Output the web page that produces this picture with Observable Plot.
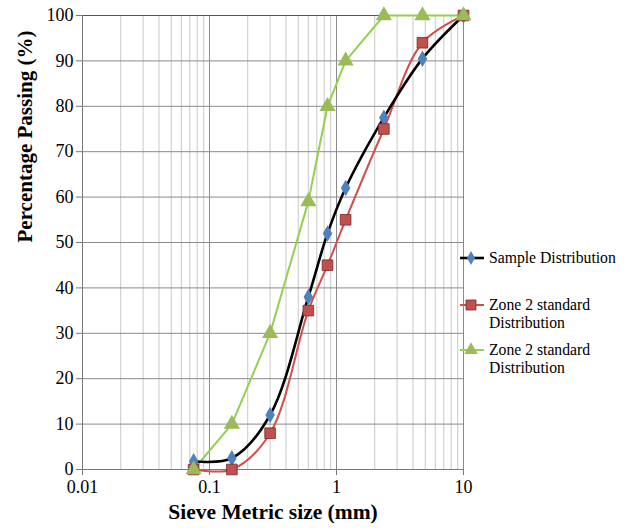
<!DOCTYPE html>
<html><head><meta charset="utf-8">
<script src="https://cdn.jsdelivr.net/npm/d3@7"></script>
<script src="https://cdn.jsdelivr.net/npm/@observablehq/plot@0.6"></script>
<style>
body{margin:0;background:#fff;}
#wrap{position:relative;width:630px;height:528px;font-family:"Liberation Serif","Times New Roman",serif;}
#wrap svg, #wrap svg text{font-family:"Liberation Serif","Times New Roman",serif !important;}
#wrap g[aria-label="x-axis tick label"] text, #wrap g[aria-label="y-axis tick label"] text{font-size:18px !important;}
#legend{position:absolute;left:0;top:0;}
#legend text{font-size:15.7px !important;}
</style></head>
<body><div id="wrap"></div>
<script>
const sieveSizes = [0.075, 0.15, 0.3, 0.6, 0.85, 1.18, 2.36, 4.75, 10];
const samplePassing = [1.8, 2.5, 12, 38, 52, 62, 77.5, 90.5, 100];
const zoneLowerPassing = [0, 0, 8, 35, 45, 55, 75, 94, 100];
const zoneUpperPassing = [0, 10, 30, 59, 80, 90, 100, 100, 100];
const seriesNames = ["Sample Distribution", "Zone 2 standard Distribution", "Zone 2 standard Distribution"];
const xTicks = [0.01, 0.1, 1, 10];
const yTicks = [0, 10, 20, 30, 40, 50, 60, 70, 80, 90, 100];

const toRows = vals => sieveSizes.map((s, i) => ({size: s, pass: vals[i]}));
const sample = toRows(samplePassing);
const zoneLower = toRows(zoneLowerPassing);
const zoneUpper = toRows(zoneUpperPassing);
const minorTicks = d3.scaleLog().domain([0.01, 10]).ticks().filter(t => !xTicks.includes(t));

const colors = {sampleLine: "#000000", sampleMark: "#4f81bd", redLine: "#d0504d", redMark: "#c0504d", greenLine: "#92d050", greenMark: "#9bbb59"};
const serif = '"Liberation Serif","Times New Roman",serif';

const chart = Plot.plot({
  width: 630, height: 528,
  marginLeft: 82, marginRight: 167, marginTop: 15, marginBottom: 59,
  style: {fontFamily: serif, fontSize: "18px", color: "#000", background: "#fff"},
  x: {type: "log", domain: [0.01, 10], label: null},
  y: {domain: [0, 100], label: null},
  marks: [
    Plot.ruleX(minorTicks, {stroke: "#c8c8c8", strokeWidth: 1}),
    Plot.ruleX(xTicks, {stroke: "#8a8a8a", strokeWidth: 1}),
    Plot.ruleY(yTicks, {stroke: "#8a8a8a", strokeWidth: 1}),
    Plot.ruleY([100], {stroke: "#555", strokeWidth: 1.2}),
    Plot.axisX({ticks: xTicks, tickFormat: d => String(d), tickSize: 6, tickPadding: 5, fontSize: 18, label: null, stroke: "#777"}),
    Plot.axisY({ticks: yTicks, tickSize: 6, tickPadding: 3, fontSize: 18, label: null, stroke: "#777"}),
    Plot.ruleX([0.01], {stroke: "#777"}),
    Plot.ruleY([0], {stroke: "#777"}),
    Plot.line(zoneUpper, {x: "size", y: "pass", stroke: colors.greenLine, strokeWidth: 2, curve: "linear"}),
    Plot.line(zoneLower, {x: "size", y: "pass", stroke: colors.redLine, strokeWidth: 2, curve: "catmull-rom"}),
    Plot.line(sample, {x: "size", y: "pass", stroke: colors.sampleLine, strokeWidth: 2.6, curve: "catmull-rom"}),
    Plot.dot(sample, {x: "size", y: "pass", symbol: "diamond", r: 5, fill: colors.sampleMark, stroke: "none"}),
    Plot.dot(zoneLower, {x: "size", y: "pass", symbol: "square", r: 6, fill: colors.redMark, stroke: "#7a2a28", strokeWidth: 0.8}),
    Plot.dot(zoneUpper, {x: "size", y: "pass", symbol: "triangle", r: 6, fill: colors.greenMark, stroke: "none"}),
    Plot.text(["Sieve Metric size (mm)"], {frameAnchor: "bottom", dy: 49, fontSize: 21.5, fontWeight: "bold"}),
    Plot.text(["Percentage Passing (%)"], {frameAnchor: "left", dx: -57, rotate: -90, fontSize: 21, fontWeight: "bold"})
  ]
});
document.getElementById("wrap").appendChild(chart);

// legend
const leg = d3.select("#wrap").append("svg").attr("id", "legend").attr("width", 630).attr("height", 528);
const entries = [
  {name: seriesNames[0], line: colors.sampleLine, mark: colors.sampleMark, sym: d3.symbolDiamond, size: 55, stroke: "none", y: 258, lw: 2.6},
  {name: seriesNames[1], line: colors.redLine, mark: colors.redMark, sym: d3.symbolSquare, size: 100, stroke: "#7a2a28", y: 305, lw: 2},
  {name: seriesNames[2], line: colors.greenLine, mark: colors.greenMark, sym: d3.symbolTriangle, size: 80, stroke: "none", y: 350, lw: 2}
];
entries.forEach(e => {
  const g = leg.append("g");
  g.append("line").attr("x1", 460).attr("x2", 484).attr("y1", e.y).attr("y2", e.y).attr("stroke", e.line).attr("stroke-width", e.lw);
  g.append("path").attr("d", d3.symbol(e.sym, e.size)()).attr("transform", `translate(471,${e.y})`).attr("fill", e.mark).attr("stroke", e.stroke).attr("stroke-width", 0.8);
  const words = e.name === "Sample Distribution" ? [e.name] : ["Zone 2 standard", "Distribution"];
  words.forEach((w, i) => {
    g.append("text").attr("x", 489).attr("y", e.y + 5 + i * 18).text(w);
  });
});
</script>
</body></html>
